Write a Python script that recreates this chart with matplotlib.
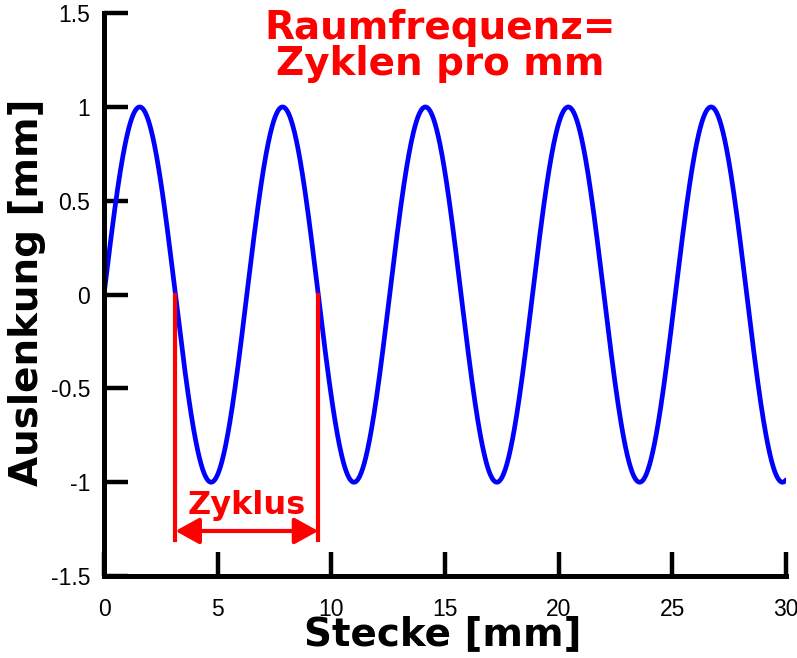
import numpy as np
import matplotlib.pyplot as plt
from matplotlib.ticker import FormatStrFormatter

# wave shown in the chart: y = amplitude * sin(2*pi*x / wavelength)
amplitude = 1.0
wavelength = 2 * np.pi      # one cycle in mm
x_start, x_end = 0.0, 30.0

# one marked cycle (between two zero crossings)
cycle_start = np.pi
cycle_end = 3 * np.pi
marker_bottom = -1.31
arrow_y = -1.26
cycle_label_y = -1.17

x_ticks = [0, 5, 10, 15, 20, 25, 30]
y_ticks = [-1.5, -1, -0.5, 0, 0.5, 1, 1.5]

title_text = "Raumfrequenz=\nZyklen pro mm"
cycle_text = "Zyklus"
xlabel_text = "Stecke [mm]"
ylabel_text = "Auslenkung [mm]"

plt.rcParams['axes.unicode_minus'] = False

x = np.linspace(x_start, x_end, 2000)
y = amplitude * np.sin(2 * np.pi * x / wavelength)

fig = plt.figure(figsize=(7.97, 6.58), dpi=100)
ax = fig.add_axes([0.1305, 0.1246, 0.8557, 0.8554])

ax.plot(x, y, color='#0000ff', lw=3.4, solid_capstyle='round', zorder=2)

# cycle markers
ax.plot([cycle_start, cycle_start], [0, marker_bottom], color='#ff0000', lw=3.0, zorder=3)
ax.plot([cycle_end, cycle_end], [0, marker_bottom], color='#ff0000', lw=3.0, zorder=3)
ax.annotate('', xy=(cycle_start, arrow_y), xytext=(cycle_end, arrow_y),
            arrowprops=dict(arrowstyle='<|-|>,head_length=1.45,head_width=0.8',
                            color='#ff0000', lw=3.0, shrinkA=0, shrinkB=0),
            zorder=3)
ax.text((cycle_start + cycle_end) / 2, cycle_label_y, cycle_text, color='#ff0000',
        fontsize=23, fontweight='bold', ha='center', va='baseline',
        family='DejaVu Sans')

ax.text(0.493, 0.890, title_text, transform=ax.transAxes, color='#ff0000',
        fontsize=28, fontweight='bold', ha='center', va='baseline',
        linespacing=0.95, family='DejaVu Sans')

ax.set_xlim(x_start, x_end)
ax.set_ylim(-1.5, 1.5)
ax.set_xticks(x_ticks)
ax.set_yticks(y_ticks)
ax.yaxis.set_major_formatter(FormatStrFormatter('%g'))

for side in ['top', 'right']:
    ax.spines[side].set_visible(False)
for side in ['left', 'bottom']:
    ax.spines[side].set_linewidth(3.6)

ax.tick_params(axis='both', direction='in', length=17, width=3.2,
               labelsize=16.5, labelfontfamily='Liberation Sans')
ax.tick_params(axis='y', pad=10)
ax.tick_params(axis='x', pad=16)

ax.set_xlabel(xlabel_text, fontsize=28, fontweight='bold', va='baseline',
              family='DejaVu Sans')
ax.xaxis.set_label_coords(0.497, -0.1226)
ax.set_ylabel(ylabel_text, fontsize=28, fontweight='bold', va='center',
              family='DejaVu Sans')
ax.yaxis.set_label_coords(-0.113, 0.504)

fig.savefig('out.png', dpi=100)
